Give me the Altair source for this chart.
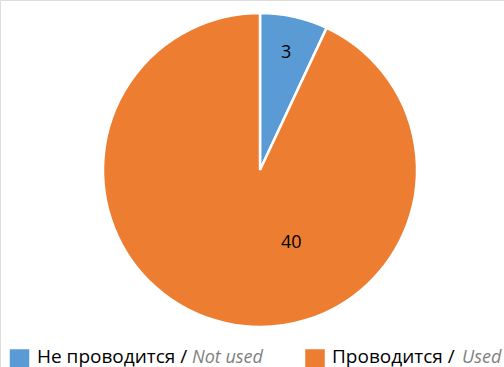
import altair as alt
import pandas as pd

categories = ["Не проводится", "Проводится"]
english = ["Not used", "Used"]
values = [3, 40]
colors = ["#5B9BD5", "#ED7D31"]

df = pd.DataFrame({"cat": categories, "en": english, "value": values, "order": [0, 1]})

color_scale = alt.Scale(domain=categories, range=colors)
CX, CY, R = 260, 170, 157

base = alt.Chart(df).encode(
    theta=alt.Theta("value:Q", stack=True),
    order=alt.Order("order:Q"),
    x=alt.value(CX), y=alt.value(CY),
)

arcs = base.mark_arc(outerRadius=R, stroke="white", strokeWidth=2.5).encode(
    color=alt.Color("cat:N", scale=color_scale, legend=None)
)

lab_small = base.transform_filter(alt.datum.order == 0).mark_text(
    radius=120, fontSize=18, font="Open Sans", color="black"
).encode(text="value:Q")

lab_big = base.transform_filter(alt.datum.order == 1).mark_text(
    radius=75, dx=15, fontSize=18, font="Open Sans", color="black"
).encode(text="value:Q")

leg_df = pd.DataFrame({
    "cat": categories,
    "ru": [c + " /" for c in categories],
    "en": english,
    "sx": [19.5, 315],
    "tx": [37, 332],
    "ex": [192, 462],
})
leg = alt.Chart(leg_df)
squares = leg.mark_square(size=380, opacity=1).encode(
    x=alt.X("sx:Q", scale=None), y=alt.value(359),
    color=alt.Color("cat:N", scale=color_scale, legend=None),
)
ru_text = leg.mark_text(align="left", baseline="alphabetic", fontSize=19, font="Open Sans", color="black").encode(
    x=alt.X("tx:Q", scale=None), y=alt.value(363), text="ru:N"
)
en_text = leg.mark_text(align="left", baseline="alphabetic", fontSize=18, font="Open Sans",
                        fontStyle="italic", color="#7f7f7f").encode(
    x=alt.X("ex:Q", scale=None), y=alt.value(363), text="en:N"
)

chart = alt.layer(arcs, lab_small, lab_big, squares, ru_text, en_text).properties(
    width=504, height=367, padding=0, autosize=alt.AutoSizeParams(type="none")
).configure_view(stroke=None).configure(background="white")

chart.save("out.html", embed_options={"renderer": "svg", "actions": False})
